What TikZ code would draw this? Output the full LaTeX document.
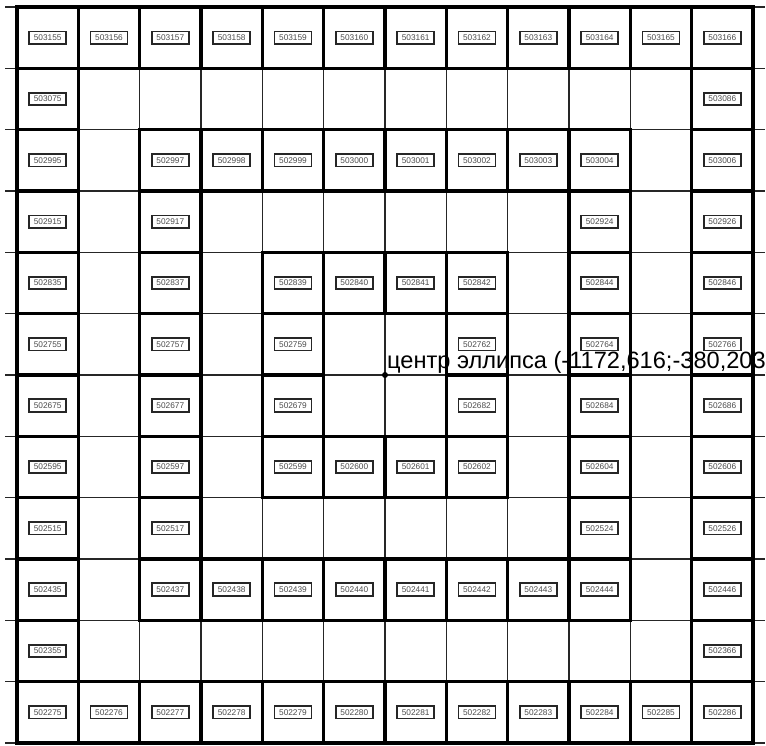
\documentclass[tikz,border=0pt]{standalone}
\usepackage{fontspec}
\setmainfont{Liberation Sans}
\begin{document}
\begin{tikzpicture}[x=1pt,y=-1pt,
  gridline/.style={line width=1.4pt, black!85},
  cellbox/.style={draw, line width=3.2pt, minimum size=61.33pt, inner sep=0pt},
  tag/.style={draw, line width=1.8pt, draw=black!85, minimum width=37pt, minimum height=12.5pt, inner sep=0pt, text=black!70, font=\fontsize{8.3}{9}\selectfont},
  centerdot/.style={circle, fill, inner sep=0pt, minimum size=6pt},
  bigtext/.style={anchor=base west, inner sep=0pt, font=\fontsize{23.6}{26}\selectfont}
]
\useasboundingbox (0,0) rectangle (766,746);
\clip (0,0) rectangle (766,746);
\fill[white] (0,0) rectangle (766,746);
% grid
\foreach \i in {0,...,12} {
  \draw[gridline] (5,{7+\i*61.33}) -- (765,{7+\i*61.33});
  \draw[gridline] ({17+\i*61.33},7) -- ({17+\i*61.33},743);
}
% labelled cells
\foreach \r/\cols in {1/{1,2,3,4,5,6,7,8,9,10,11,12},
                      2/{1,12},
                      3/{1,3,4,5,6,7,8,9,10,12},
                      4/{1,3,10,12},
                      5/{1,3,5,6,7,8,10,12},
                      6/{1,3,5,8,10,12},
                      7/{1,3,5,8,10,12},
                      8/{1,3,5,6,7,8,10,12},
                      9/{1,3,10,12},
                      10/{1,3,4,5,6,7,8,9,10,12},
                      11/{1,12},
                      12/{1,2,3,4,5,6,7,8,9,10,11,12}} {
  \foreach \c in \cols {
    \node[cellbox] (cell-\r-\c) at ({17+(\c-0.5)*61.33},{7+(\r-0.5)*61.33}) {};
    \node[tag] (tag-\r-\c) at (cell-\r-\c.center) {\the\numexpr 503155-80*(\r-1)+\c-1\relax};
  }
}
% centre marker
\node[centerdot] (ctr) at (385,375) {};
\node[bigtext] (ctrlabel) at (387,368.5) {центр эллипса (-1172,616;-380,203)};
\end{tikzpicture}
\end{document}
